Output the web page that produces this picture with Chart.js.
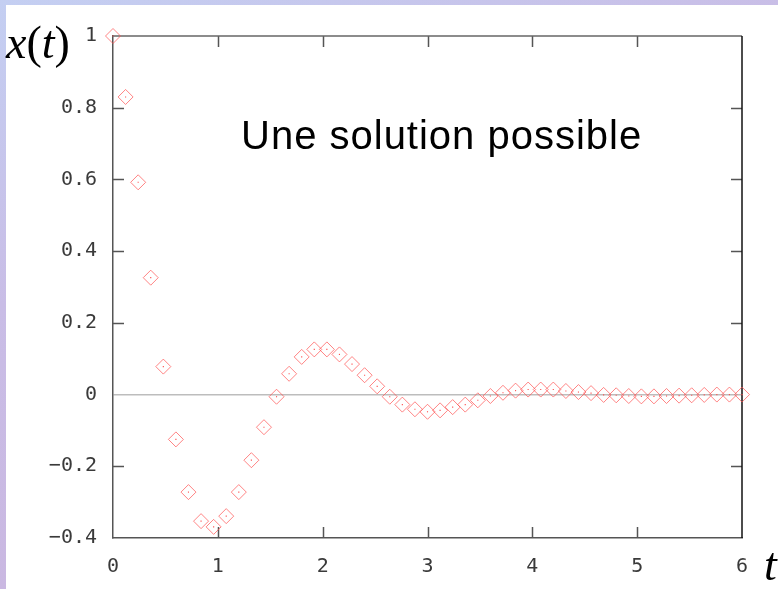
<!DOCTYPE html>
<html>
<head>
<meta charset="utf-8">
<script src="https://cdn.jsdelivr.net/npm/chart.js@4/dist/chart.umd.min.js"></script>
<style>
    body {
        margin: 0;
        width: 778px;
        height: 589px;
        overflow: hidden;
        position: relative;
        background: linear-gradient(160deg, #c4cff2 0%, #c9bde6 35%, #cbb3dd 100%);
    }
    #paper {
        position: absolute;
        left: 6px;
        top: 5px;
        right: 0;
        bottom: 0;
        background: #ffffff;
    }
    #chart-box {
        position: absolute;
        left: 0;
        top: 0;
        width: 778px;
        height: 589px;
    }
    .math {
        position: absolute;
        font-family: "Liberation Serif", "DejaVu Serif", serif;
        font-size: 46px;
        line-height: normal;
        color: #000;
        white-space: nowrap;
    }
    .math i {
        font-style: italic;
    }
    #note {
        position: absolute;
        left: 241px;
        top: 113px;
        font-family: "Liberation Sans", Arial, sans-serif;
        font-size: 40px;
        letter-spacing: 1px;
        line-height: normal;
        color: #000;
        white-space: nowrap;
    }
</style>
</head>
<body>
<div id="paper"></div>
<div id="chart-box"><canvas id="solution"></canvas></div>
<div class="math" style="left:6px; top:16px;"><i>x</i>(<i>t</i>)</div>
<div class="math" style="left:764px; top:538px;"><i>t</i></div>
<div id="note">Une solution possible</div>

<script>
    // temps t et valeurs x(t)
    const times = [
        0.00, 0.12, 0.24, 0.36, 0.48, 0.60, 0.72, 0.84, 0.96, 1.08,
        1.20, 1.32, 1.44, 1.56, 1.68, 1.80, 1.92, 2.04, 2.16, 2.28,
        2.40, 2.52, 2.64, 2.76, 2.88, 3.00, 3.12, 3.24, 3.36, 3.48,
        3.60, 3.72, 3.84, 3.96, 4.08, 4.20, 4.32, 4.44, 4.56, 4.68,
        4.80, 4.92, 5.04, 5.16, 5.28, 5.40, 5.52, 5.64, 5.76, 5.88,
        6.00
    ];
    const values = [
        1.000, 0.830, 0.592, 0.326, 0.078, -0.125, -0.272, -0.353, -0.369, -0.339,
        -0.272, -0.183, -0.091, -0.006, 0.058, 0.105, 0.126, 0.126, 0.112, 0.085,
        0.054, 0.023, -0.006, -0.028, -0.041, -0.048, -0.044, -0.035, -0.028, -0.016,
        -0.004, 0.005, 0.011, 0.014, 0.014, 0.014, 0.010, 0.007, 0.004, -0.001,
        -0.002, -0.004, -0.005, -0.005, -0.004, -0.003, -0.002, -0.001, 0.000, 0.000,
        0.000
    ];
    const xTicks = [0, 1, 2, 3, 4, 5, 6];
    const yTicks = [-0.4, -0.2, 0, 0.2, 0.4, 0.6, 0.8, 1];

    const points = times.map((t, i) => ({x: t, y: values[i]}));
    const tickFont = {family: "'DejaVu Sans Mono', 'Liberation Mono', monospace", size: 20};

    // petits traits vers l'intérieur sur les 4 côtés + bords haut et droit
    const frame = {
        id: "frame",
        beforeDatasetsDraw(chart) {
            const ctx = chart.ctx;
            const {left, right, top, bottom} = chart.chartArea;
            const xs = chart.scales.x, ys = chart.scales.y;
            ctx.save();
            ctx.lineWidth = 1.5;
            ctx.strokeStyle = "#555";
            ctx.beginPath();
            xTicks.slice(1, -1).forEach(v => {
                const px = Math.round(xs.getPixelForValue(v)) + 0.5;
                ctx.moveTo(px, bottom);
                ctx.lineTo(px, bottom - 11);
                ctx.moveTo(px, top);
                ctx.lineTo(px, top + 11);
            });
            yTicks.slice(1, -1).forEach(v => {
                if (v === 0) return;
                const py = Math.round(ys.getPixelForValue(v)) + 0.5;
                ctx.moveTo(left, py);
                ctx.lineTo(left + 11, py);
                ctx.moveTo(right, py);
                ctx.lineTo(right - 11, py);
            });
            ctx.stroke();

            ctx.strokeStyle = "#666";
            ctx.beginPath();
            ctx.moveTo(left, top);
            ctx.lineTo(right, top);
            ctx.stroke();

            ctx.strokeStyle = "#111";
            ctx.beginPath();
            ctx.moveTo(right, top);
            ctx.lineTo(right, bottom);
            ctx.stroke();
            ctx.restore();
        }
    };

    new Chart(document.getElementById("solution"), {
        type: "scatter",
        data: {
            datasets: [
                {
                    label: "x(t)",
                    data: points,
                    pointStyle: "rectRot",
                    pointRadius: 7.5,
                    borderWidth: 1,
                    borderColor: "rgba(255, 80, 80, 0.7)",
                    backgroundColor: "rgba(0, 0, 0, 0)",
                    clip: false,
                },
                {
                    label: "centres",
                    data: points,
                    pointStyle: "rect",
                    pointRadius: 0.8,
                    borderWidth: 0,
                    backgroundColor: "#ff5050",
                    clip: false,
                },
            ],
        },
        options: {
            responsive: true,
            maintainAspectRatio: false,
            animation: false,
            events: [],
            layout: {
                padding: {top: 36, right: 36, left: 0, bottom: 0},
            },
            plugins: {
                legend: {display: false},
                tooltip: {enabled: false},
            },
            scales: {
                x: {
                    type: "linear",
                    min: 0,
                    max: 6,
                    afterFit: (scale) => { scale.height = 51; },
                    afterBuildTicks: (scale) => { scale.ticks = xTicks.map(v => ({value: v})); },
                    grid: {display: false, drawTicks: false},
                    border: {display: true, color: "#555", width: 1.5},
                    ticks: {
                        font: tickFont,
                        color: "#3a3a3a",
                        padding: 17,
                        maxRotation: 0,
                    },
                },
                y: {
                    type: "linear",
                    min: -0.4,
                    max: 1,
                    afterFit: (scale) => { scale.width = 113; },
                    afterBuildTicks: (scale) => { scale.ticks = yTicks.map(v => ({value: v})); },
                    grid: {
                        drawTicks: false,
                        color: (ctx) => ctx.tick && ctx.tick.value === 0 ? "#bdbdbd" : "rgba(0,0,0,0)",
                        lineWidth: 1.5,
                    },
                    border: {display: true, color: "#555", width: 1.5},
                    ticks: {
                        font: tickFont,
                        color: "#3a3a3a",
                        padding: 16,
                        callback: (v) => (v === 0 ? "0" : String(Math.round(v * 10) / 10)).replace("-", "\u2212"),
                    },
                },
            },
        },
        plugins: [frame],
    });
</script>
</body>
</html>
